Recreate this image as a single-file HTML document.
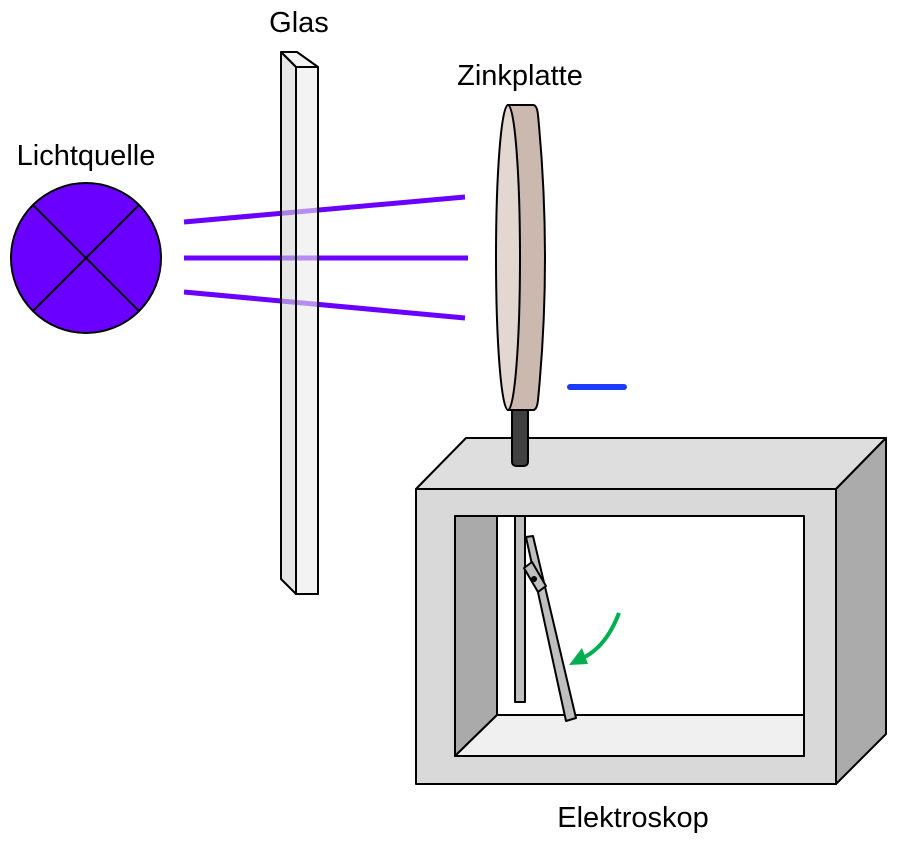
<!DOCTYPE html>
<html><head><meta charset="utf-8"><style>body{margin:0;background:#fff}svg{display:block}text{font-family:"Liberation Sans",sans-serif;font-size:29px;fill:#000;text-anchor:middle}</style></head>
<body>
<svg width="898" height="841" viewBox="0 0 898 841">
<text x="299" y="32">Glas</text>
<text x="520" y="85">Zinkplatte</text>
<text x="86" y="165">Lichtquelle</text>
<text x="633" y="827">Elektroskop</text>
<!-- light source -->
<circle cx="86" cy="258" r="75" fill="#6a00ff" stroke="#000" stroke-width="2"/>
<line x1="33" y1="205" x2="139" y2="311" stroke="#000" stroke-width="2"/>
<line x1="139" y1="205" x2="33" y2="311" stroke="#000" stroke-width="2"/>
<!-- rays -->
<g stroke="#6a00ff" stroke-width="5">
<line x1="184" y1="222" x2="465" y2="197"/>
<line x1="184" y1="258" x2="468" y2="258"/>
<line x1="184" y1="292" x2="465" y2="318"/>
</g>
<!-- glass -->
<g stroke="#000" stroke-width="2" stroke-linejoin="round">
<polygon points="281,52 297,52 318,67 296,67" fill="#ebebeb" fill-opacity="0.6"/>
<polygon points="281,52 296,67 296,594 281,579" fill="#d6d6d6" fill-opacity="0.6"/>
<rect x="296" y="67" width="22" height="527" fill="#ebebeb" fill-opacity="0.6"/>
</g>
<!-- box -->
<g stroke="#000" stroke-width="2" stroke-linejoin="round">
<polygon points="416,489 466,438 886,438 836,489" fill="#dedede"/>
<polygon points="836,489 886,438 886,734 836,784" fill="#ababab"/>
<rect x="416" y="489" width="420" height="295" fill="#d9d9d9"/>
<rect x="455" y="516" width="349" height="240" fill="#fff"/>
<polygon points="455,516 497,516 497,715 455,756" fill="#aaaaaa"/>
<polygon points="455,756 497,715 804,715 804,756" fill="#f0f0f0"/>
<rect x="515" y="516" width="10" height="186" fill="#bfbfbf"/>
<polygon points="526,537 533,536 576,718 566,721" fill="#bfbfbf"/>
<polygon points="524,568 532,562 546,586 538,592" fill="#bfbfbf"/>
</g>
<circle cx="534" cy="579" r="3" fill="#000"/>
<!-- rod -->
<rect x="512" y="400" width="16" height="66" rx="4" fill="#404040" stroke="#000" stroke-width="2"/>
<!-- zinc plate -->
<path d="M508,105 L533,105 Q537,105 538,115 Q552,258 538,400 Q537,410 533,410 L508,410 Z" fill="#cbb8ae" stroke="#000" stroke-width="2"/>
<ellipse cx="508" cy="257.5" rx="12" ry="152.5" fill="#e2d7d1" stroke="#000" stroke-width="2"/>
<line x1="570" y1="387" x2="624" y2="387" stroke="#1a3cff" stroke-width="6" stroke-linecap="round"/>
<!-- green arrow -->
<path d="M619,613 Q605,650 578,660" fill="none" stroke="#00b050" stroke-width="4"/>
<polygon points="569,665 582,648 588,664" fill="#00b050"/>
</svg>
</body></html>
